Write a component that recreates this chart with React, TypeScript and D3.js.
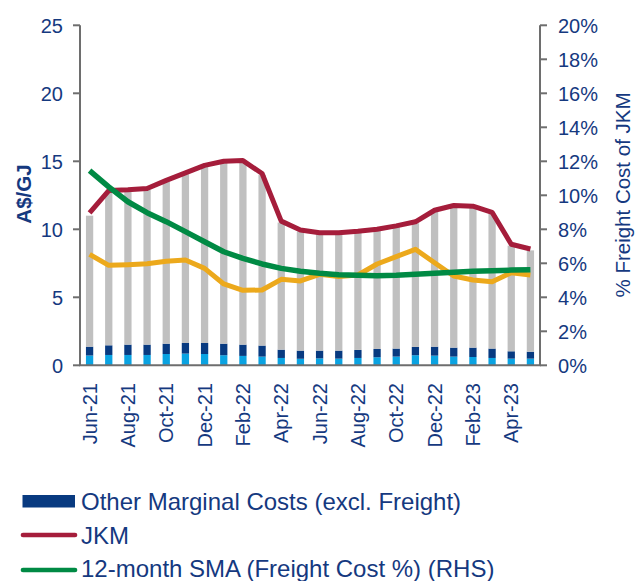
import React from "react";
import * as d3 from "d3";

const months = [
  "Jun-21", "Jul-21", "Aug-21", "Sep-21", "Oct-21", "Nov-21", "Dec-21", "Jan-22",
  "Feb-22", "Mar-22", "Apr-22", "May-22", "Jun-22", "Jul-22", "Aug-22", "Sep-22",
  "Oct-22", "Nov-22", "Dec-22", "Jan-23", "Feb-23", "Mar-23", "Apr-23", "May-23",
];
const tickMonths = ["Jun-21", "Aug-21", "Oct-21", "Dec-21", "Feb-22", "Apr-22", "Jun-22", "Aug-22", "Oct-22", "Dec-22", "Feb-23", "Apr-23"];

// stacked bar segments (A$/GJ)
const freight = [0.72, 0.76, 0.76, 0.76, 0.83, 0.86, 0.83, 0.74, 0.69, 0.64, 0.54, 0.48, 0.51, 0.49, 0.54, 0.59, 0.64, 0.74, 0.71, 0.64, 0.61, 0.54, 0.49, 0.49];
const otherCosts = [0.65, 0.71, 0.76, 0.76, 0.76, 0.78, 0.81, 0.85, 0.83, 0.81, 0.61, 0.6, 0.57, 0.59, 0.59, 0.61, 0.59, 0.61, 0.66, 0.66, 0.69, 0.69, 0.54, 0.51];
const netback = [9.63, 11.28, 11.28, 11.38, 11.91, 12.41, 12.96, 13.31, 13.43, 12.55, 9.35, 8.77, 8.57, 8.57, 8.62, 8.7, 8.92, 9.1, 9.93, 10.35, 10.3, 9.92, 7.77, 7.45];

// lines
const jkm = [11.2, 12.85, 12.9, 13.0, 13.6, 14.15, 14.7, 15.0, 15.05, 14.1, 10.6, 9.95, 9.75, 9.75, 9.85, 10.0, 10.25, 10.55, 11.4, 11.75, 11.7, 11.25, 8.9, 8.55];
const orangeSeries = [8.16, 7.35, 7.4, 7.47, 7.65, 7.74, 7.13, 5.98, 5.51, 5.54, 6.32, 6.2, 6.69, 6.52, 6.64, 7.45, 7.99, 8.53, 7.54, 6.57, 6.27, 6.15, 6.81, 6.64];
const smaPct = [11.45, 10.5, 9.62, 8.98, 8.45, 7.86, 7.27, 6.68, 6.29, 5.96, 5.7, 5.53, 5.41, 5.33, 5.29, 5.27, 5.29, 5.35, 5.41, 5.47, 5.53, 5.56, 5.6, 5.62];

const leftTicks = [0, 5, 10, 15, 20, 25];
const rightTicks = [0, 2, 4, 6, 8, 10, 12, 14, 16, 18, 20];

const TEXT = "#15397f";
const AXIS = "#6e6e6e";
const FONT = "'Liberation Sans', Arial, sans-serif";

export default function App() {
  const W = 640, H = 581;
  const x0 = 80, x1 = 540, yBase = 365.3, yTop = 25.3;
  const x = d3.scalePoint<string>().domain(months).range([x0, x1]).padding(0.5);
  const bw = x.step() * 0.38;
  const yL = d3.scaleLinear().domain([0, 25]).range([yBase, yTop]);
  const yR = d3.scaleLinear().domain([0, 20]).range([yBase, yTop]);

  const rows = months.map((m, i) => ({ m, freight: freight[i], other: otherCosts[i], netback: netback[i] }));
  const stack = d3.stack<any>().keys(["freight", "other", "netback"])(rows);
  const colors: Record<string, string> = { freight: "#0aa3e2", other: "#083a80", netback: "#c0c0c0" };

  const lineL = d3.line<number>().x((_, i) => x(months[i])!).y((d) => yL(d)).curve(d3.curveLinear);
  const lineR = d3.line<number>().x((_, i) => x(months[i])!).y((d) => yR(d));

  return (
    <svg width={W} height={H} style={{ position: "absolute", left: 0, top: 0, background: "#fff" }} fontFamily={FONT}>
      {/* bars */}
      {stack.map((s) => (
        <g key={s.key} fill={colors[s.key]}>
          {s.map((d, i) => (
            <rect key={i} x={x(months[i])! - bw / 2} width={bw} y={yL(d[1])} height={yL(d[0]) - yL(d[1])} />
          ))}
        </g>
      ))}
      {/* lines */}
      <path d={lineL(orangeSeries)!} fill="none" stroke="#eca91c" strokeWidth={5} strokeLinejoin="round" />
      <path d={lineL(jkm)!} fill="none" stroke="#a51d3b" strokeWidth={5} strokeLinejoin="round" />
      <path d={lineR(smaPct)!} fill="none" stroke="#008a44" strokeWidth={5.5} strokeLinejoin="round" />

      {/* left axis */}
      <line x1={x0} x2={x0} y1={yTop} y2={yBase} stroke={AXIS} strokeWidth={2} />
      {leftTicks.map((t) => (
        <g key={t}>
          <line x1={x0 - 7} x2={x0} y1={yL(t)} y2={yL(t)} stroke={AXIS} strokeWidth={2} />
          <text x={63} y={yL(t)} dy="0.36em" textAnchor="end" fontSize={20} fill={TEXT}>{t}</text>
        </g>
      ))}
      {/* right axis */}
      <line x1={x1} x2={x1} y1={yTop} y2={yBase} stroke={AXIS} strokeWidth={2} />
      {rightTicks.map((t) => (
        <g key={t}>
          <line x1={x1} x2={x1 + 7} y1={yR(t)} y2={yR(t)} stroke={AXIS} strokeWidth={2} />
          <text x={558} y={yR(t)} dy="0.36em" textAnchor="start" fontSize={20} fill={TEXT}>{t}%</text>
        </g>
      ))}
      {/* x axis */}
      <line x1={x0 - 1} x2={x1 + 1} y1={yBase} y2={yBase} stroke={AXIS} strokeWidth={2} />
      {tickMonths.map((m) => (
        <text key={m} transform={`translate(${x(m)},${383}) rotate(-90)`} dy="0.36em" textAnchor="end" fontSize={20} fill={TEXT}>{m}</text>
      ))}

      {/* axis titles */}
      <text transform={`translate(31,194) rotate(-90)`} textAnchor="middle" fontSize={20.5} fontWeight="bold" fill={TEXT}>A$/GJ</text>
      <text transform={`translate(630,195) rotate(-90)`} textAnchor="middle" fontSize={20.5} fill={TEXT}>% Freight Cost of JKM</text>

      {/* legend */}
      <rect x={22.5} y={495} width={52.5} height={12.5} fill="#083a80" />
      <text x={81} y={510} fontSize={24} fill={TEXT}>Other Marginal Costs (excl. Freight)</text>
      <line x1={23} x2={75} y1={535} y2={535} stroke="#a51d3b" strokeWidth={4.7} strokeLinecap="round" />
      <text x={81} y={544} fontSize={24} fill={TEXT}>JKM</text>
      <line x1={23} x2={75} y1={570} y2={570} stroke="#008a44" strokeWidth={4.7} strokeLinecap="round" />
      <text x={81} y={577} fontSize={24} fill={TEXT}>12-month SMA (Freight Cost %) (RHS)</text>
    </svg>
  );
}
